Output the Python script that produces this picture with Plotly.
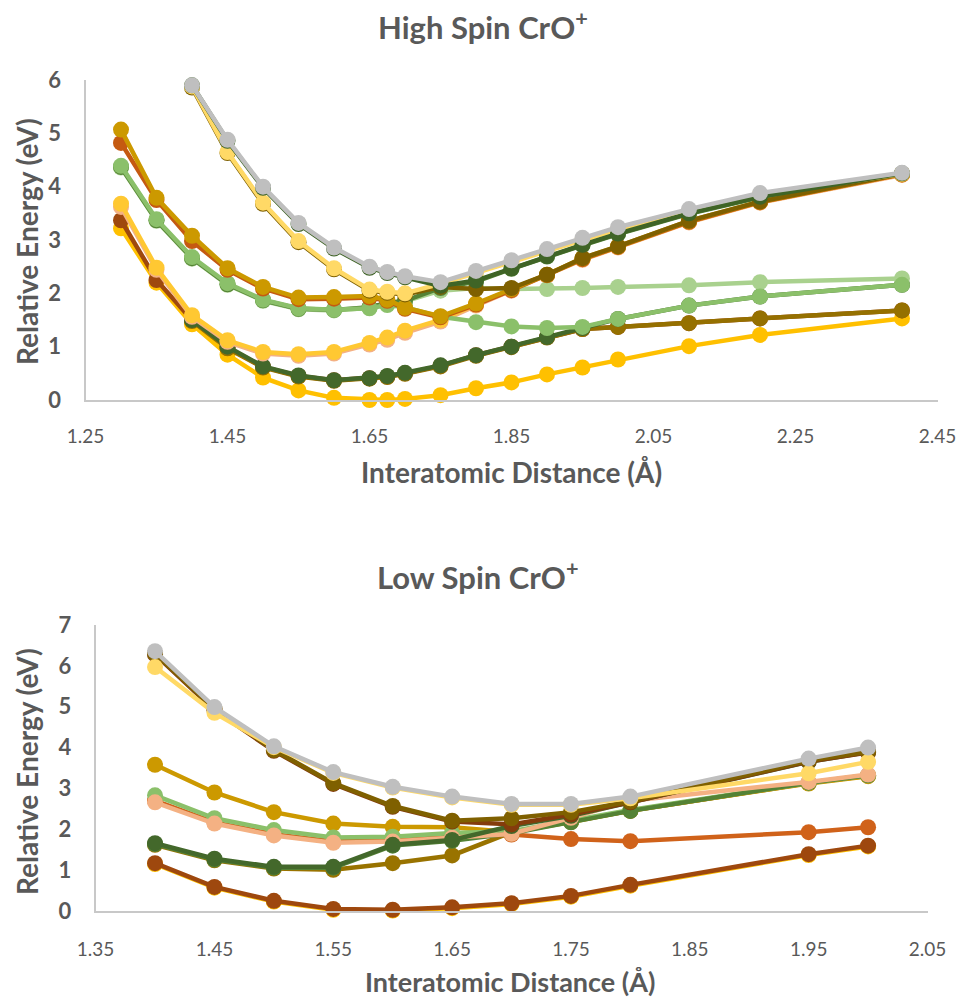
import plotly.graph_objects as go

# ---------------- High spin data ----------------
hs_x = [1.30, 1.35, 1.40, 1.45, 1.50, 1.55, 1.60, 1.65, 1.675, 1.70, 1.75, 1.80, 1.85, 1.90, 1.95, 2.00, 2.10, 2.20, 2.40]

hs_yellow   = [3.22, 2.20, 1.42, 0.85, 0.42, 0.18, 0.04, 0.00, 0.00, 0.02, 0.09, 0.22, 0.33, 0.48, 0.61, 0.76, 1.01, 1.22, 1.53]
hs_brown    = [3.37, 2.25, 1.50, 0.98, 0.62, 0.45, 0.37, 0.41, 0.44, 0.50, 0.64, 0.84, 1.00, 1.18, 1.33, 1.37, 1.44, 1.53, 1.68]
hs_olive    = [None, None, 1.48, 0.97, 0.61, 0.44, 0.36, 0.40, 0.43, 0.49, 0.63, 0.83, 0.99, 1.17, 1.33, 1.37, 1.44, 1.53, 1.68]
hs_dkgreen  = [None, None, 1.50, 1.00, 0.63, 0.46, 0.37, 0.41, 0.45, 0.51, 0.65, 0.84, 1.00, 1.18, 1.35, 1.52, 1.77, 1.94, 2.16]
hs_salmon   = [3.62, 2.44, 1.56, 1.09, 0.87, 0.83, 0.87, 1.04, 1.13, 1.26, 1.47, 1.77, 2.05, 2.33, 2.63, 2.86, 3.33, 3.70, 4.22]
hs_byellow  = [3.68, 2.48, 1.59, 1.12, 0.90, 0.86, 0.90, 1.07, 1.17, 1.30, 1.50, 1.79, 2.07, 2.34, 2.64, 2.87, 3.34, 3.71, 4.23]
hs_lgreen   = [4.36, 3.36, 2.65, 2.16, 1.86, 1.70, 1.68, 1.73, 1.80, 1.85, 2.05, 2.10, 2.08, 2.08, 2.10, 2.12, 2.15, 2.21, 2.28]
hs_mgreen   = [4.37, 3.37, 2.66, 2.17, 1.87, 1.71, 1.69, 1.74, 1.82, 1.86, 2.10, 2.22, 2.46, 2.69, 2.90, 3.11, 3.49, 3.80, 4.24]
hs_green    = [4.39, 3.39, 2.68, 2.19, 1.88, 1.72, 1.69, 1.72, 1.78, 1.74, 1.56, 1.46, 1.38, 1.35, 1.37, 1.52, 1.77, 1.94, 2.16]
hs_orange   = [4.82, 3.75, 2.98, 2.44, 2.09, 1.89, 1.90, 1.92, 1.86, 1.71, 1.55, 1.79, 2.06, 2.34, 2.64, 2.87, 3.34, 3.71, 4.23]
hs_gold     = [5.07, 3.79, 3.08, 2.47, 2.12, 1.92, 1.93, 1.95, 1.88, 1.73, 1.57, 1.81, 2.08, 2.35, 2.66, 2.88, 3.36, 3.72, 4.24]
hs_olivedk  = [None, None, 5.86, 4.63, 3.68, 2.96, 2.45, 2.05, 2.01, 1.98, 2.12, 2.08, 2.10, 2.35, 2.66, 2.88, 3.36, 3.72, 4.24]
hs_lyellow  = [None, None, 5.88, 4.65, 3.70, 2.98, 2.47, 2.07, 2.03, 2.00, 2.18, 2.38, 2.58, 2.79, 3.00, 3.20, 3.54, 3.85, 4.24]
hs_dkgreen2 = [None, None, 5.90, 4.86, 3.98, 3.30, 2.84, 2.48, 2.38, 2.30, 2.14, 2.24, 2.47, 2.70, 2.91, 3.12, 3.50, 3.81, 4.25]
hs_gray     = [None, None, 5.90, 4.88, 4.00, 3.32, 2.86, 2.50, 2.40, 2.32, 2.21, 2.42, 2.62, 2.83, 3.04, 3.24, 3.58, 3.88, 4.26]

# ---------------- Low spin data ----------------
ls_x = [1.40, 1.45, 1.50, 1.55, 1.60, 1.65, 1.70, 1.75, 1.80, 1.95, 2.00]

ls_yellow   = [1.15, 0.57, 0.23, 0.03, 0.01, 0.07, 0.17, 0.35, 0.62, 1.37, 1.58]
ls_brown    = [1.17, 0.59, 0.25, 0.05, 0.03, 0.09, 0.19, 0.37, 0.64, 1.39, 1.60]
ls_olive    = [1.62, 1.24, 1.04, 1.01, 1.17, 1.36, 1.93, 2.18, 2.45, 3.13, 3.31]
ls_orange   = [2.70, 2.17, 1.88, 1.70, 1.73, 1.82, 1.87, 1.76, 1.71, 1.93, 2.05]
ls_gold     = [3.58, 2.90, 2.42, 2.14, 2.06, 2.05, 1.93, 2.18, 2.46, 3.12, 3.30]
ls_green    = [2.83, 2.27, 1.98, 1.80, 1.82, 1.91, 1.95, 2.20, 2.47, 3.14, 3.32]
ls_mgreen   = [1.64, 1.26, 1.06, 1.06, 1.60, 1.72, 1.90, 2.17, 2.45, 3.14, 3.32]
ls_salmon   = [2.66, 2.14, 1.85, 1.67, 1.70, 1.79, 1.89, 2.28, 2.70, 3.16, 3.34]
ls_dkgreen  = [1.66, 1.28, 1.08, 1.08, 1.62, 1.74, 2.08, 2.33, 2.66, 3.65, 3.89]
ls_brown2   = [6.28, 4.92, 3.92, 3.11, 2.55, 2.19, 2.12, 2.36, 2.66, 3.66, 3.88]
ls_olivedk  = [6.30, 4.95, 3.94, 3.13, 2.57, 2.21, 2.27, 2.42, 2.68, 3.68, 3.90]
ls_lyellow  = [5.97, 4.85, 4.01, 3.38, 3.02, 2.78, 2.60, 2.60, 2.76, 3.37, 3.65]
ls_gray     = [6.36, 4.99, 4.03, 3.40, 3.04, 2.80, 2.62, 2.62, 2.80, 3.73, 4.00]

hs_xticks = [1.25, 1.45, 1.65, 1.85, 2.05, 2.25, 2.45]
ls_xticks = [1.35, 1.45, 1.55, 1.65, 1.75, 1.85, 1.95, 2.05]

hs_series = [
    (hs_yellow, "#FFC000"), (hs_brown, "#9E480E"), (hs_olive, "#957000"),
    (hs_dkgreen, "#43682B"), (hs_salmon, "#F4B183"), (hs_byellow, "#FFC832"),
    (hs_lgreen, "#A9D18E"), (hs_mgreen, "#548235"), (hs_green, "#8BC06A"),
    (hs_orange, "#C55A11"), (hs_gold, "#CC9900"), (hs_olivedk, "#7F6000"),
    (hs_lyellow, "#FFD966"), (hs_dkgreen2, "#3F6426"), (hs_gray, "#BFBFBF"),
]
ls_series = [
    (ls_yellow, "#FFC000"), (ls_brown, "#9E480E"), (ls_olive, "#997300"),
    (ls_orange, "#D0621A"), (ls_gold, "#CC9900"), (ls_green, "#8BC06A"),
    (ls_mgreen, "#548235"), (ls_salmon, "#F4B183"), (ls_dkgreen, "#43682B"),
    (ls_brown2, "#843C0C"), (ls_olivedk, "#7F6000"), (ls_lyellow, "#FFD966"),
    (ls_gray, "#BFBFBF"),
]

W, H = 964, 1001
FONT = "Lato"
TXT = "#595959"

fig = go.Figure()
for ys, c in hs_series:
    fig.add_trace(go.Scatter(x=hs_x, y=ys, mode="lines+markers", xaxis="x", yaxis="y",
                             line=dict(color=c, width=4.5), marker=dict(color=c, size=16),
                             cliponaxis=False, showlegend=False, connectgaps=False))
for ys, c in ls_series:
    fig.add_trace(go.Scatter(x=ls_x, y=ys, mode="lines+markers", xaxis="x2", yaxis="y2",
                             line=dict(color=c, width=4.5), marker=dict(color=c, size=16),
                             cliponaxis=False, showlegend=False))

def px_x(p):
    return p / W

def px_y(p):
    return 1 - p / H

axis_common = dict(showgrid=False, zeroline=False, showline=True, linecolor="#C8C8C8",
                   linewidth=2, ticks="", fixedrange=True, automargin=False)

fig.update_layout(
    width=W, height=H, margin=dict(l=0, r=0, t=0, b=0, autoexpand=False),
    paper_bgcolor="white", plot_bgcolor="white",
    font=dict(family=FONT, color=TXT),
    xaxis=dict(domain=[px_x(85.5), px_x(937.5)], range=[1.25, 2.45], anchor="y",
               tickvals=hs_xticks, ticktext=[f"{v:.2f}" for v in hs_xticks],
               tickfont=dict(size=19, color=TXT), ticklabelstandoff=18, **axis_common),
    yaxis=dict(domain=[px_y(400), px_y(80)], range=[0, 6], anchor="x", dtick=1,
               tickfont=dict(size=22, color=TXT, weight="bold"), ticklabelstandoff=18, **axis_common),
    xaxis2=dict(domain=[px_x(95.6), px_x(927.5)], range=[1.35, 2.05], anchor="y2",
                tickvals=ls_xticks, ticktext=[f"{v:.2f}" for v in ls_xticks],
                tickfont=dict(size=19, color=TXT), ticklabelstandoff=20, **axis_common),
    yaxis2=dict(domain=[px_y(911), px_y(625)], range=[0, 7], anchor="x2", dtick=1,
                tickfont=dict(size=22, color=TXT, weight="bold"), ticklabelstandoff=18, **axis_common),
)

def ann(text, x, y, size, angle=0):
    fig.add_annotation(text=text, x=px_x(x), y=px_y(y), xref="paper", yref="paper",
                       showarrow=False, textangle=angle, xanchor="center", yanchor="middle",
                       font=dict(family=FONT, size=size, color=TXT, weight="bold"))

ann("High Spin CrO<sup>+</sup>", 483, 25, 31)
ann("Low Spin CrO<sup>+</sup>", 478, 575, 31)
ann("Relative Energy (eV)", 27, 242, 28, -90)
ann("Relative Energy (eV)", 27, 772, 28, -90)
ann("Interatomic Distance (Å)", 511, 472, 28)
ann("Interatomic Distance (Å)", 510, 981, 27)

fig.write_html("out.html")
